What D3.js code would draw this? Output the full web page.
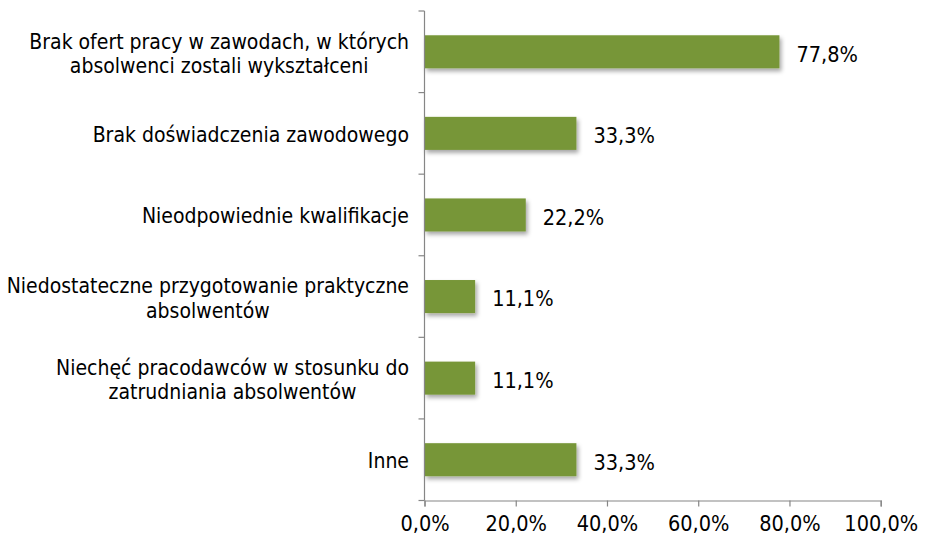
<!DOCTYPE html>
<html><head><meta charset="utf-8">
<script src="https://cdn.jsdelivr.net/npm/d3@7"></script>
<style>body{margin:0;background:#fff}</style>
</head><body>
<svg id="c" width="928" height="541"></svg>
<script>
const categories = [
  ["Brak ofert pracy w zawodach, w których", "absolwenci zostali wykształceni"],
  ["Brak doświadczenia zawodowego"],
  ["Nieodpowiednie kwalifikacje"],
  ["Niedostateczne przygotowanie praktyczne", "absolwentów"],
  ["Niechęć pracodawców w stosunku do", "zatrudniania absolwentów"],
  ["Inne"]
];
const values = [77.8, 33.3, 22.2, 11.1, 11.1, 33.3];
const xTicks = [0, 20, 40, 60, 80, 100];
const fmt = v => v.toFixed(1).replace(".", ",") + "%";

const FONT = "'DejaVu Sans Condensed', 'DejaVu Sans', sans-serif";
const FS = 21;
const svg = d3.select("#c");
const m = {left: 424.5, right: 880.7, top: 11, bottom: 500.5};

const x = d3.scaleLinear().domain([0, 100]).range([m.left, m.right]);
const y = d3.scaleBand().domain(d3.range(categories.length)).range([m.top, m.bottom]).paddingInner(0.595).paddingOuter(0.2975);

const defs = svg.append("defs");
const f = defs.append("filter").attr("id", "sh").attr("x", "-10%").attr("y", "-30%").attr("width", "130%").attr("height", "190%");
f.append("feDropShadow").attr("dx", 2).attr("dy", 3).attr("stdDeviation", 2).attr("flood-color", "#000").attr("flood-opacity", 0.35);

// bars
svg.append("g").selectAll("rect").data(values).join("rect")
  .attr("x", x(0)).attr("y", (d, i) => y(i))
  .attr("width", d => x(d) - x(0)).attr("height", y.bandwidth())
  .attr("fill", "#779638").attr("filter", "url(#sh)");

// y axis
const yBand = d3.scaleLinear().domain([0, categories.length]).range([m.top, m.bottom]);
const ya = svg.append("g");
ya.append("line").attr("x1", m.left).attr("x2", m.left).attr("y1", m.top).attr("y2", m.bottom).attr("stroke", "#868686").attr("stroke-width", 1.2);
ya.selectAll("line.t").data(d3.range(categories.length + 1)).join("line").attr("class", "t")
  .attr("x1", m.left - 6).attr("x2", m.left).attr("y1", d => yBand(d)).attr("y2", d => yBand(d))
  .attr("stroke", "#868686").attr("stroke-width", 1.2);

// x axis
const xa = svg.append("g").attr("transform", `translate(0,${m.bottom})`)
  .call(d3.axisBottom(x).tickValues(xTicks).tickFormat(fmt).tickSize(6).tickPadding(9));
xa.select(".domain").attr("stroke", "#868686").attr("stroke-width", 1.2);
xa.selectAll(".tick line").attr("stroke", "#868686").attr("stroke-width", 1.2);
xa.selectAll(".tick text").attr("font-family", FONT).attr("font-size", 21.5).attr("fill", "#000");

// category labels
const lab = svg.append("g").attr("font-family", FONT).attr("font-size", FS).attr("fill", "#000");
const labelRight = 409;
const lh = 24.5;
categories.forEach((lines, i) => {
  const cy = y(i) + y.bandwidth() / 2;
  const g = lab.append("g");
  const texts = lines.map((t, j) => g.append("text")
    .attr("y", cy + (j - (lines.length - 1) / 2) * lh)
    .attr("dy", lines.length > 1 ? "0.43em" : "0.4em").text(t));
  const widths = texts.map(t => t.node().getComputedTextLength());
  const maxW = Math.max(...widths);
  const center = labelRight - maxW / 2;
  texts.forEach(t => t.attr("x", center).attr("text-anchor", "middle"));
});

// value labels
svg.append("g").attr("font-family", FONT).attr("font-size", 21.5).attr("fill", "#000")
  .selectAll("text").data(values).join("text")
  .attr("x", d => x(d) + 17).attr("y", (d, i) => y(i) + y.bandwidth() / 2)
  .attr("dy", "0.46em").text(fmt);
</script>
</body></html>
